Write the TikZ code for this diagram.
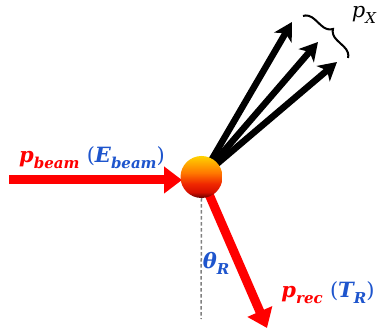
\documentclass[tikz,border=0pt]{standalone}
\usepackage{fontspec}
\newfontfamily\lf{DejaVu Serif}
\usetikzlibrary{arrows.meta,decorations.pathreplacing,backgrounds}
\definecolor{lblue}{RGB}{30,85,205}
\definecolor{pred}{RGB}{255,0,0}
\definecolor{ballA}{RGB}{255,210,0}
\definecolor{ballB}{RGB}{255,120,0}
\definecolor{ballR}{RGB}{240,40,0}
\definecolor{ballD}{RGB}{215,15,0}
\definecolor{ballC}{RGB}{100,0,0}
\pgfdeclareverticalshading{ballsh}{100bp}{color(0bp)=(ballC); color(25bp)=(ballC); color(32bp)=(ballD); color(42bp)=(ballR); color(55bp)=(ballB); color(75bp)=(ballA); color(100bp)=(ballA)}
\newcommand{\sbx}[1]{\raisebox{-0.28em}{\fontsize{15}{18}\selectfont #1}}
\begin{document}
\begin{tikzpicture}[x=1pt,y=1pt,
  redarr/.style={line width=9pt, pred, -{Triangle[length=18pt,width=26pt]}},
  blkarr/.style={line width=6.5pt, black, -{Stealth[length=18pt,width=20pt,inset=5pt]}},
  lbl/.style={inner sep=0pt, font=\lf\bfseries\itshape\fontsize{21}{25}\selectfont},
  lblthin/.style={inner sep=0pt, font=\lf\itshape\fontsize{21}{25}\selectfont},
  ballstyle/.style={circle, minimum size=42pt, inner sep=0pt, shade, shading=ballsh}]
\useasboundingbox (0,0) rectangle (379,334);
\node[ballstyle] (ball) at (201.5,157) {};
\coordinate (beamstart) at (9,154);
\coordinate (beamend) at (182,154);
\coordinate (recend) at (267,6);
\coordinate (x1) at (292,312);
\coordinate (x2) at (318,292);
\coordinate (x3) at (337,272);
\coordinate (dashend) at (201,15);
\coordinate (bra) at (303,318);
\coordinate (brb) at (348,276);
\begin{scope}[on background layer]
  \draw[redarr] (beamstart) -- (beamend);
  \draw[redarr] (ball.center) -- (recend);
  \draw[blkarr] (ball.center) -- (x1);
  \draw[blkarr] (ball.center) -- (x2);
  \draw[blkarr] (ball.center) -- (x3);
\end{scope}
\draw[gray, line width=1.5pt, dash pattern=on 3.5pt off 2.5pt] (ball.south) -- (dashend);
\draw[line width=2pt, decorate, decoration={brace, amplitude=11pt}] (bra) -- (brb);
\node[lbl] (pbeam) at (92,176) {\textcolor{pred}{p\sbx{beam}} \textcolor{lblue}{{\mdseries\upshape(}E\sbx{beam}{\mdseries\upshape)}}};
\node[lbl] (prec) at (328,41) {\textcolor{pred}{p\sbx{rec}} \textcolor{lblue}{{\mdseries\upshape(}T\sbx{R}{\mdseries\upshape)}}};
\node[lbl, text=lblue] (theta) at (216,71) {θ\sbx{R}};
\node[lblthin] (px) at (364,319) {p\sbx{X}};
\end{tikzpicture}
\end{document}
